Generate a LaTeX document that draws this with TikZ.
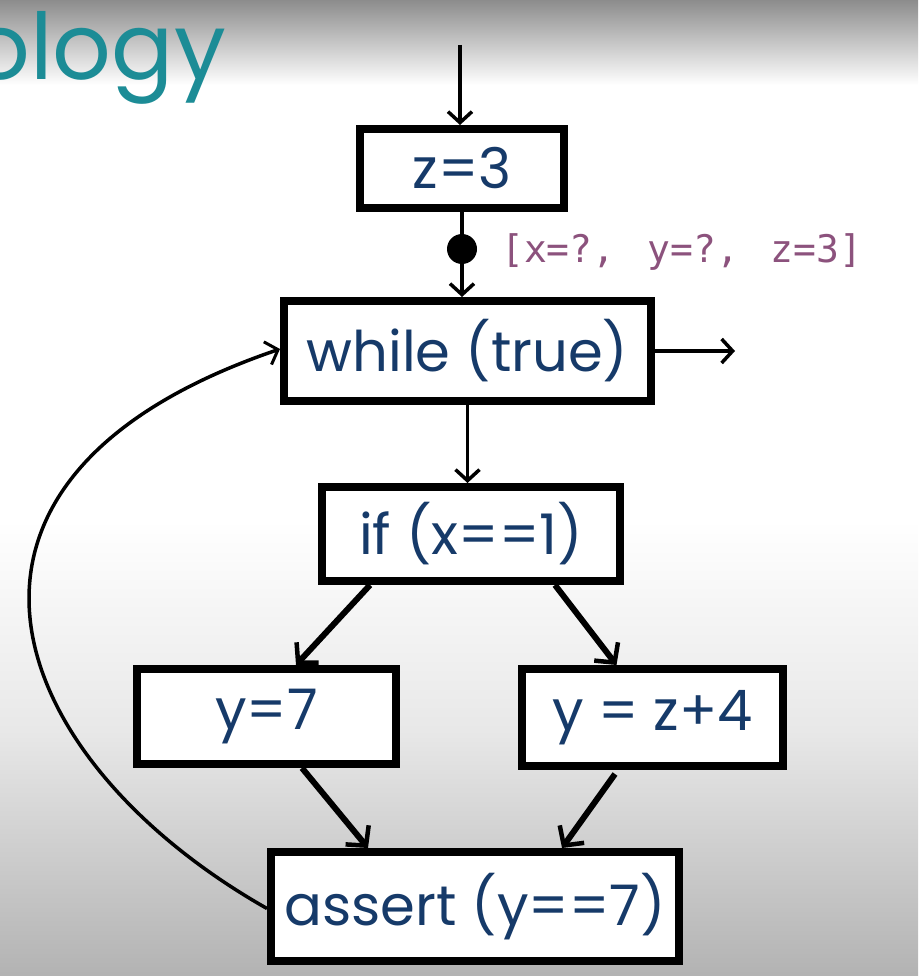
\documentclass[tikz,border=0pt]{standalone}
\usepackage{fontspec}
\setmainfont{Poppins}
\newfontfamily\monof{DejaVu Sans Mono}
\usetikzlibrary{arrows.meta,calc}
\definecolor{navy}{RGB}{22,58,105}
\definecolor{teal1}{RGB}{28,140,150}
\definecolor{purp}{RGB}{140,82,125}
\tikzset{
  box/.style={draw=black, line width=8pt, fill=white, inner sep=0pt, text=navy,
    font=\fontsize{56}{62}\selectfont},
  thickarr/.style={line width=6pt, -{Straight Barb[length=14pt,width=30pt,line width=4.5pt]}},
  thinarr/.style={line width=3.5pt, -{Straight Barb[length=11pt,width=24pt,line width=3.5pt]}},
  looparr/.style={line width=3.5pt, -{Straight Barb[length=11pt,width=24pt,line width=3pt]}},
}
\begin{document}
\begin{tikzpicture}[x=1pt,y=-1pt]
\useasboundingbox (0,0) rectangle (918,976);
% background
\fill[white] (0,0) rectangle (918,976);
\shade[top color=black!45, bottom color=white] (0,0) rectangle (918,85);
\shade[top color=white, bottom color=black!9] (0,520) rectangle (918,730);
\shade[top color=black!9, bottom color=black!30] (0,730) rectangle (918,976);
% title fragment
\node[anchor=base east, inner sep=0pt, text=teal1, font=\fontsize{92}{100}\selectfont] (title) at (226,80) {ology};
% nodes
\node[box, minimum width=204pt, minimum height=79pt] (z3) at (462,168.5) {z=3};
\node[box, minimum width=367pt, minimum height=100pt] (wh) at (467.5,351) {while (true)};
\node[box, minimum width=298pt, minimum height=94pt] (if) at (471,534) {if (x==1)};
\node[box, minimum width=259pt, minimum height=95pt] (y7) at (266.5,716.5) {y=7};
\node[box, minimum width=261pt, minimum height=97pt] (yz) at (652.5,717.5) {y = z+4};
\node[box, minimum width=408pt, minimum height=109pt] (as) at (475,906.5) {assert (y==7)};
\coordinate (top) at (460,45);
\coordinate (exit) at (735,351);
% connectors
\draw[thinarr] (top) -- (top |- z3.north);
\draw[line width=4pt, -{Straight Barb[length=11pt,width=24pt,line width=3.5pt]}] (z3.south) -- (z3.south |- wh.north);
\node[circle, fill=black, minimum size=30pt, inner sep=0pt] (dot) at (462,249) {};
\node[anchor=west, inner sep=0pt, text=purp, font=\monof\fontsize{38}{42}\selectfont] (lbl) at (501,252) {[x=?,\hspace{9pt} y=?,\hspace{9pt} z=3]};
\draw[thinarr] (wh.east) -- (exit);
\draw[thinarr] (wh.south) -- (wh.south |- if.north);
\draw[thickarr] ([xshift=-101pt]if.south) -- ([xshift=29.5pt]y7.north);
\draw[thickarr] ([xshift=84pt]if.south) -- ([xshift=-36pt]yz.north);
\draw[thickarr] ([xshift=35.5pt]y7.south) -- ([xshift=-107pt]as.north);
\draw[thickarr] ([xshift=-37.5pt,yshift=-4pt]yz.south) -- ([xshift=87pt]as.north);
\draw[looparr] ([yshift=-2pt]as.west) .. controls (5,760) and (-105,480) .. ([yshift=2pt]wh.west);
\end{tikzpicture}
\end{document}
